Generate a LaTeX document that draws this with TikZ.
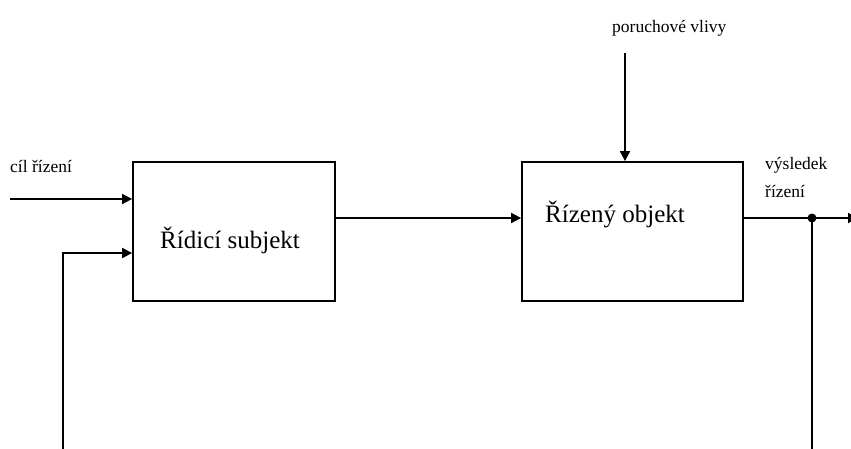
\documentclass[tikz,border=0pt]{standalone}
\usepackage{fontspec}
\setmainfont{Liberation Serif}
\usetikzlibrary{arrows.meta}

\tikzset{
  blok/.style={draw, line width=1.8pt, minimum width=#1, minimum height=139pt, inner sep=0pt},
  sipka/.style={line width=1.8pt, -{Triangle[length=10pt,width=10pt]}},
  popis/.style={font=\fontsize{17.5}{19}\selectfont, inner sep=0pt, anchor=base west}
}

\begin{document}
\begin{tikzpicture}[x=1pt, y=-1pt]
            \useasboundingbox (0,0) rectangle (851,448);
            \clip (0,0) rectangle (851,448);
            % bloky
            \node[blok=202pt] (ridici) at (234,231.5) {};
            \node[blok=221pt] (objekt) at (632.5,231.5) {};
            \node[font=\fontsize{25}{28}\selectfont, inner sep=0pt] (tridici) at (230,240) {Řídicí subjekt};
            \node[font=\fontsize{25}{28}\selectfont, inner sep=0pt] (tobjekt) at (615,214) {Řízený objekt};
            % vstupy
            \coordinate (cil) at (10,199);
            \coordinate (vstup1) at (ridici.west |- cil);
            \draw[sipka] (cil) -- (vstup1);
            \node[popis] (tcil) at (10,172) {cíl řízení};
            \coordinate (porucha) at (625,53);
            \draw[sipka] (porucha) -- (porucha |- objekt.north);
            \node[popis] (tporucha) at (612,32) {poruchové vlivy};
            % akcni zasah
            \coordinate (vystup1) at (ridici.east |- 0,218);
            \draw[sipka] (vystup1) -- (vystup1 -| objekt.west);
            % vystup a zpetna vazba
            \coordinate (uzel) at (812,218);
            \coordinate (vystup2) at (858,218);
            \draw[sipka] (uzel -| objekt.east) -- (vystup2);
            \fill (uzel) circle [radius=4.5pt];
            \node[popis] (tvysledek) at (765,169) {výsledek};
            \node[popis] (trizeni) at (765,197) {řízení};
            \coordinate (vstup2) at (ridici.west |- 0,253);
            \draw[sipka] (uzel) -- (812,470) -- (63,470) -- (63,253) -- (vstup2);
        \end{tikzpicture}
\end{document}
